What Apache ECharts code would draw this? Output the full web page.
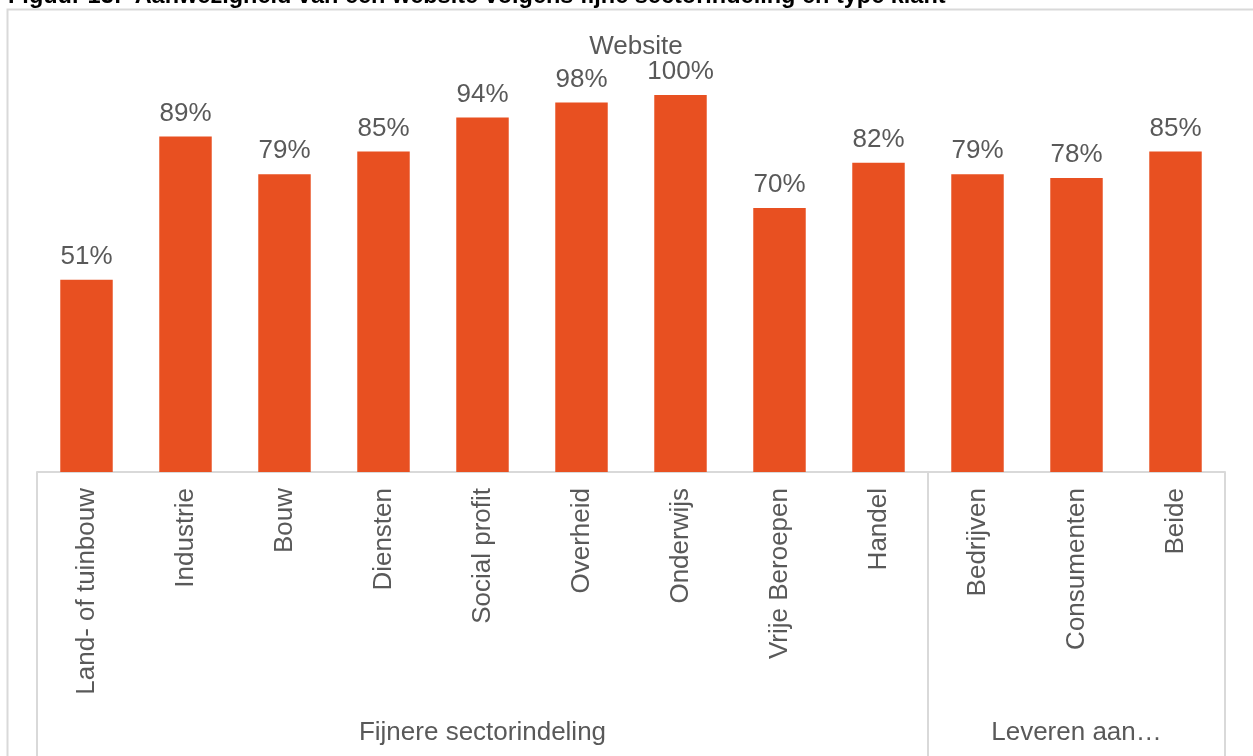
<!DOCTYPE html>
<html>
<head>
<meta charset="utf-8">
<script src="https://cdn.jsdelivr.net/npm/echarts@6/dist/echarts.min.js"></script>
<style>
  html, body { margin: 0; padding: 0; background: #fff; }
  #chart { width: 1253px; height: 756px; }
</style>
</head>
<body>
<div id="chart"></div>
<script>
// Sector / customer type categories
const categories = [
  'Land- of tuinbouw', 'Industrie', 'Bouw', 'Diensten', 'Social profit',
  'Overheid', 'Onderwijs', 'Vrije Beroepen', 'Handel',
  'Bedrijven', 'Consumenten', 'Beide'
];
// Share of companies with a website (%)
const websiteShare = [51, 89, 79, 85, 94, 98, 100, 70, 82, 79, 78, 85];
// Category groups: [first index, end index (exclusive), label]
const groups = [
  [0, 9, 'Fijnere sectorindeling'],
  [9, 12, 'Leveren aan…']
];

const FONT = '"Liberation Sans", Arial, Helvetica, sans-serif';
const GREY = '#595959';
const LINE = '#d9d9d9';

const chart = echarts.init(document.getElementById('chart'), null, { renderer: 'canvas' });

chart.setOption({
  animation: false,
  backgroundColor: '#ffffff',
  title: {
    text: 'Website',
    left: 631,
    textAlign: 'center',
    top: 29,
    textStyle: { fontFamily: FONT, fontSize: 26, fontWeight: 'normal', color: GREY }
  },
  graphic: [
    {
      type: 'rect',
      shape: { x: 7.5, y: 9.5, width: 1400, height: 900 },
      style: { fill: null, stroke: LINE, lineWidth: 2 },
      silent: true
    },
    {
      type: 'text',
      x: 8,
      y: -3,
      style: {
        text: 'Figuur 13:  Aanwezigheid van een website volgens fijne sectorindeling en type klant',
        font: 'bold 23.5px ' + FONT,
        fill: '#000000',
        verticalAlign: 'middle',
        align: 'left'
      },
      silent: true
    }
  ],
  grid: { left: 37, right: 28, top: 95, bottom: 284, containLabel: false },
  xAxis: {
    type: 'category',
    data: categories,
    axisLine: { show: true, lineStyle: { color: LINE, width: 2 } },
    axisTick: { show: false },
    axisLabel: {
      rotate: 90,
      interval: 0,
      margin: 16,
      fontFamily: FONT,
      fontSize: 26,
      color: GREY
    },
    splitLine: { show: false }
  },
  yAxis: {
    type: 'value',
    min: 0,
    max: 100,
    show: false,
    splitLine: { show: false }
  },
  series: [
    {
      type: 'bar',
      data: websiteShare,
      barWidth: '53%',
      itemStyle: { color: '#E85021' },
      label: {
        show: true,
        position: 'top',
        distance: 10,
        formatter: p => p.value + '%',
        fontFamily: FONT,
        fontSize: 26,
        color: GREY
      }
    },
    {
      // Group brackets below the category labels
      type: 'custom',
      data: groups,
      silent: true,
      clip: false,
      renderItem: function (params, api) {
        const start = api.value(0);
        const end = api.value(1);
        const bw = api.size([1, 0])[0];
        const x0 = api.coord([start, 0])[0] - bw / 2;
        const x1 = api.coord([end - 1, 0])[0] + bw / 2;
        const yBase = api.coord([0, 0])[1];
        const yBottom = api.getHeight();
        const label = groups[params.dataIndex][2];
        return {
          type: 'group',
          children: [
            {
              type: 'line',
              shape: { x1: x0, y1: yBase, x2: x0, y2: yBottom },
              style: { stroke: LINE, lineWidth: 2 }
            },
            {
              type: 'line',
              shape: { x1: x1, y1: yBase, x2: x1, y2: yBottom },
              style: { stroke: LINE, lineWidth: 2 }
            },
            {
              type: 'text',
              x: (x0 + x1) / 2,
              y: yBottom - 23,
              style: {
                text: label,
                font: '26px ' + FONT,
                fill: GREY,
                align: 'center',
                verticalAlign: 'middle'
              }
            }
          ]
        };
      }
    }
  ]
});
</script>
</body>
</html>
